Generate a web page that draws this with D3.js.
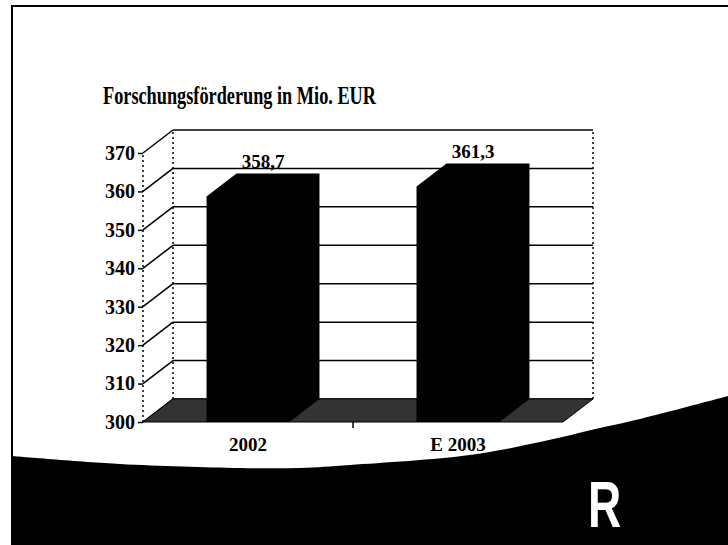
<!DOCTYPE html>
<html>
<head>
<meta charset="utf-8">
<script src="https://cdn.jsdelivr.net/npm/d3@7"></script>
<style>
  body { margin: 0; background: #fff; }
  svg { display: block; }
</style>
</head>
<body>
<script>
// Forschungsfoerderung in Mio. EUR
var categories = ["2002", "E 2003"];
var values = [358.7, 361.3];
var yTicks = [300, 310, 320, 330, 340, 350, 360, 370];

var w = 728;
var h = 545;
var depthX = 30, depthY = -23;   // 3d offset front -> back
var serif = "'Liberation Serif', 'Times New Roman', serif";

var svg = d3.select("body")
  .append("svg")
  .attr("width", w)
  .attr("height", h);

var y = d3.scaleLinear().domain([300, 370]).range([422, 153]);
var pad = 0.605;
var x = d3.scaleBand().domain(categories).range([143, 563])
  .paddingInner(pad).paddingOuter(pad / 2);

var fmt = function(v) { return d3.format(".1f")(v).replace(".", ","); };
var yb = function(v) { return y(v) + depthY; };   // back wall y
var x0 = x.range()[0], x1 = x.range()[1];

// page frame
svg.append("path")
  .attr("d", "M12,545 L12,6 L728,6")
  .attr("fill", "none")
  .attr("stroke", "#000")
  .attr("stroke-width", 2);

// title
svg.append("text")
  .attr("x", 103)
  .attr("y", 104)
  .attr("font-family", serif)
  .attr("font-weight", "bold")
  .attr("font-size", 25)
  .attr("textLength", 273)
  .attr("lengthAdjust", "spacingAndGlyphs")
  .text("Forschungsförderung in Mio. EUR");

// back wall gridlines
svg.selectAll("line.grid")
  .data(yTicks)
  .enter()
  .append("line")
  .attr("class", "grid")
  .attr("x1", x0 + depthX)
  .attr("x2", x1 + depthX)
  .attr("y1", function(d) { return yb(d); })
  .attr("y2", function(d) { return yb(d); })
  .attr("stroke", "#000")
  .attr("stroke-width", 1.5);

// side wall diagonals
svg.selectAll("line.diag")
  .data(yTicks)
  .enter()
  .append("line")
  .attr("class", "diag")
  .attr("x1", x0)
  .attr("x2", x0 + depthX)
  .attr("y1", function(d) { return y(d); })
  .attr("y2", function(d) { return yb(d); })
  .attr("stroke", "#000")
  .attr("stroke-width", 1.5);

// dotted vertical edges
[[x0, y(300), y(370)], [x0 + depthX, yb(300), yb(370)], [x1 + depthX, yb(300), yb(370)]]
  .forEach(function(e) {
    svg.append("line")
      .attr("x1", e[0]).attr("x2", e[0])
      .attr("y1", e[1]).attr("y2", e[2])
      .attr("stroke", "#000")
      .attr("stroke-width", 1.5)
      .attr("stroke-dasharray", "2,3");
  });

// floor
svg.append("polygon")
  .attr("points", [
    [x0, y(300)], [x1, y(300)], [x1 + depthX, yb(300)], [x0 + depthX, yb(300)]
  ].join(" "))
  .attr("fill", "#333")
  .attr("stroke", "#000")
  .attr("stroke-width", 1);

// bars
svg.selectAll("polygon.bar")
  .data(values)
  .enter()
  .append("polygon")
  .attr("class", "bar")
  .attr("points", function(d, i) {
    var l = x(categories[i]), r = l + x.bandwidth();
    return [
      [l, y(300)], [l, y(d)], [l + depthX, yb(d)],
      [r + depthX, yb(d)], [r + depthX, yb(300)], [r, y(300)]
    ].join(" ");
  })
  .attr("fill", "#000");

// value labels
svg.selectAll("text.val")
  .data(values)
  .enter()
  .append("text")
  .attr("class", "val")
  .attr("x", function(d, i) { return x(categories[i]) + x.bandwidth() / 2 + depthX / 2; })
  .attr("y", function(d) { return yb(d) - 5; })
  .attr("text-anchor", "middle")
  .attr("font-family", serif)
  .attr("font-weight", "bold")
  .attr("font-size", 19)
  .text(function(d) { return fmt(d); });

// y axis on the front edge
var yAxis = svg.append("g")
  .attr("transform", "translate(" + x0 + ",0)")
  .call(d3.axisLeft(y).tickValues(yTicks).tickSize(5).tickPadding(3));
yAxis.select(".domain").remove();
yAxis.selectAll(".tick line").attr("stroke", "#000").attr("stroke-width", 1.5);
yAxis.selectAll(".tick text")
  .attr("font-family", serif)
  .attr("font-weight", "bold")
  .attr("font-size", 20)
  .attr("fill", "#000");

// x axis
var xAxis = svg.append("g")
  .attr("transform", "translate(0," + y(300) + ")")
  .call(d3.axisBottom(x).tickSize(0).tickPadding(16));
xAxis.select(".domain").remove();
xAxis.selectAll(".tick text")
  .attr("font-family", serif)
  .attr("font-weight", "bold")
  .attr("font-size", 19)
  .attr("fill", "#000");
var mid = x(categories[1]) - x.step() * pad / 2;
svg.append("line")
  .attr("x1", mid).attr("x2", mid)
  .attr("y1", y(300)).attr("y2", y(300) + 6)
  .attr("stroke", "#000").attr("stroke-width", 1.5);

// black swoosh at the bottom
var edge = [[12, 456], [120, 464], [240, 468], [300, 468], [350, 465],
            [470, 455], [540, 442], [600, 428], [640, 419], [728, 396]];
var curve = d3.line().curve(d3.curveCatmullRom)(edge);
svg.append("path")
  .attr("d", curve + " L728,545 L12,545 Z")
  .attr("fill", "#000");

svg.append("text")
  .attr("transform", "translate(588,527) scale(0.72,1)")
  .attr("font-family", "'Liberation Sans', Arial, sans-serif")
  .attr("font-weight", "bold")
  .attr("font-size", 64)
  .attr("fill", "#fff")
  .text("R");
</script>
</body>
</html>
